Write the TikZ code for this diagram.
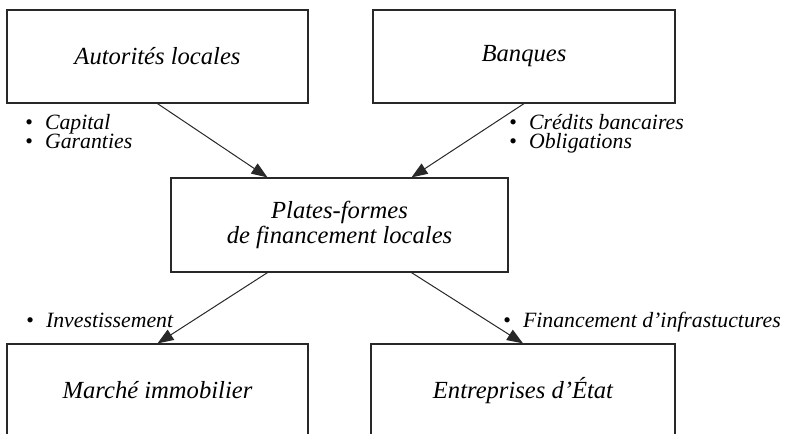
\documentclass[tikz,border=0pt]{standalone}
\usepackage{fontspec}
\setmainfont{Liberation Serif}
\usetikzlibrary{arrows.meta}
\definecolor{pfline}{RGB}{40,40,40}

\begin{document}
\begin{tikzpicture}[x=0.5pt,y=-0.5pt,
  pfbox/.style={draw=pfline,line width=0.6pt,minimum width=150.5pt,minimum height=46.5pt,
    inner sep=0pt,align=center,font=\fontsize{12.3}{10}\selectfont\itshape},
  pflabel/.style={inner sep=0pt,align=left,font=\fontsize{10.9}{9.6}\selectfont},
  pfarrow/.style={draw=pfline,line width=0.5pt,-{Triangle[length=8pt,width=6pt]}}]
\useasboundingbox (0,0) rectangle (785,433);
\node[pfbox] (auto) at (157.5,56.5) {Autorités locales};
\node[pfbox,minimum width=151pt] (bank) at (524,56.5) {Banques};
\node[pfbox,minimum width=168.5pt,minimum height=47pt] (pf) at (339.5,225) {Plates-formes\\de financement locales};
\node[pfbox] (immo) at (157.5,390.5) {Marché immobilier};
\node[pfbox,minimum width=152pt] (ent) at (523,390.5) {Entreprises d’État};
% flux entrants
\draw[pfarrow] (auto.south) -- ([xshift=-36pt]pf.north);
\draw[pfarrow] (bank.south) -- ([xshift=36pt]pf.north);
% flux sortants
\draw[pfarrow] ([xshift=-36pt]pf.south) -- (immo.north);
\draw[pfarrow] ([xshift=36pt]pf.south) -- (ent.north);
\node[pflabel,anchor=north west] (capi) at (25,114) {•\hspace{6pt}\textit{Capital}\\•\hspace{6pt}\textit{Garanties}};
\node[pflabel,anchor=north west] (cred) at (509,114) {•\hspace{6pt}\textit{Crédits bancaires}\\•\hspace{6pt}\textit{Obligations}};
\node[pflabel,anchor=base west] (inve) at (26,327) {•\hspace{6pt}\textit{Investissement}};
\node[pflabel,anchor=base west] (infr) at (503,327) {•\hspace{6pt}\textit{Financement d’infrastuctures}};
\end{tikzpicture}
\end{document}
